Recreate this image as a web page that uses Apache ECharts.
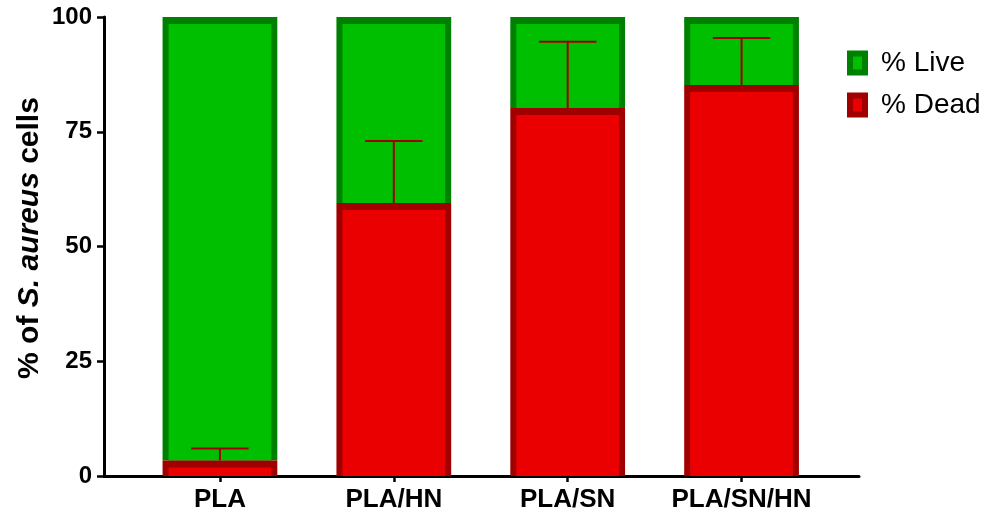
<!DOCTYPE html>
<html>
<head>
<meta charset="utf-8">
<script src="https://cdn.jsdelivr.net/npm/echarts@6/dist/echarts.min.js"></script>
<style>
  html, body { margin: 0; padding: 0; background: #ffffff; }
  #chart { width: 990px; height: 514px; }
</style>
</head>
<body>
<div id="chart"></div>
<script>
// Viability of S. aureus on each surface (percent of cells)
const categories = ['PLA', 'PLA/HN', 'PLA/SN', 'PLA/SN/HN'];
const deadPct = [3.4, 59.5, 80.2, 85.2];
const livePct = [96.6, 40.5, 19.8, 14.8];
const deadErr = [2.6, 13.5, 14.4, 10.2];
const yTicks = [0, 25, 50, 75, 100];

const FONT = '"Liberation Sans", Arial, Helvetica, sans-serif';
const GREEN = '#00BE00', GREEN_DARK = '#008000';
const RED = '#EA0000', RED_DARK = '#A00000';
const SIDE = 6, TOP = 7;

// Bar with a thick inner border on the left, right and top edges
function borderedBar(fill, edge) {
  return function (params, api) {
    const i = api.value(0);
    const base = api.value(1);
    const top = base + api.value(2);
    const w = api.size([1, 0])[0] * 0.66;
    const pTop = api.coord([i, top]);
    const pBase = api.coord([i, base]);
    const x = pTop[0] - w / 2;
    const h = pBase[1] - pTop[1];
    return {
      type: 'group',
      children: [
        { type: 'rect', shape: { x: x, y: pTop[1], width: w, height: h }, style: { fill: edge } },
        { type: 'rect', shape: { x: x + SIDE, y: pTop[1] + TOP, width: w - 2 * SIDE, height: Math.max(0, h - TOP) }, style: { fill: fill } }
      ]
    };
  };
}

// Upper error whisker above the dead fraction
function errorBar(params, api) {
  const i = api.value(0);
  const v = api.value(1);
  const e = api.value(2);
  const capW = api.size([1, 0])[0] * 0.33;
  const p0 = api.coord([i, v]);
  const p1 = api.coord([i, v + e]);
  const style = { stroke: RED_DARK, lineWidth: 2, fill: null };
  return {
    type: 'group',
    children: [
      { type: 'line', shape: { x1: p0[0], y1: p0[1], x2: p1[0], y2: p1[1] }, style: style },
      { type: 'line', shape: { x1: p1[0] - capW / 2, y1: p1[1], x2: p1[0] + capW / 2, y2: p1[1] }, style: style }
    ]
  };
}

const liveData = categories.map((c, i) => [i, deadPct[i], livePct[i]]);
const deadData = categories.map((c, i) => [i, 0, deadPct[i]]);
const errData = categories.map((c, i) => [i, deadPct[i], deadErr[i]]);

const chart = echarts.init(document.getElementById('chart'), null, { renderer: 'canvas' });

chart.setOption({
  backgroundColor: '#ffffff',
  animation: false,
  textStyle: { fontFamily: FONT },
  legend: {
    orient: 'vertical',
    left: 847,
    top: 49,
    padding: 0,
    itemWidth: 15,
    itemHeight: 19,
    itemGap: 14,
    selectedMode: false,
    textStyle: { fontFamily: FONT, fontSize: 28, color: '#000000', padding: [0, 0, 0, 11] },
    data: [
      { name: '% Live', icon: 'rect', itemStyle: { color: GREEN, borderColor: GREEN_DARK, borderWidth: 6 } },
      { name: '% Dead', icon: 'rect', itemStyle: { color: RED, borderColor: RED_DARK, borderWidth: 6 } }
    ]
  },
  graphic: [
    {
      type: 'text',
      x: 30,
      y: 238,
      rotation: Math.PI / 2,
      style: {
        text: '{n|% of }{i|S. aureus}{n| cells}',
        align: 'center',
        verticalAlign: 'middle',
        rich: {
          n: { fontFamily: FONT, fontSize: 30, fontWeight: 'bold', fill: '#000000' },
          i: { fontFamily: FONT, fontSize: 30, fontWeight: 'bold', fontStyle: 'italic', fill: '#000000' }
        }
      }
    }
  ],
  grid: [
    { left: 104, right: 131, top: 17, bottom: 38 },
    { left: 133, right: 161.5, top: 17, bottom: 38 }
  ],
  xAxis: [
    {
      gridIndex: 0, type: 'value', min: 0, max: 1,
      axisLine: { show: true, lineStyle: { color: '#000000', width: 3 } },
      axisTick: { show: false }, axisLabel: { show: false }, splitLine: { show: false }
    },
    {
      gridIndex: 1, type: 'category', data: categories,
      axisLine: { show: false },
      axisTick: { show: true, interval: 0, alignWithLabel: true, length: 6, lineStyle: { color: '#000000', width: 2.5 } },
      axisLabel: { interval: 0, hideOverlap: false, margin: 11, fontFamily: FONT, fontSize: 26, fontWeight: 'bold', color: '#000000' },
      splitLine: { show: false }
    }
  ],
  yAxis: [
    {
      gridIndex: 0, type: 'value', min: 0, max: 100, interval: 25,
      axisLine: { show: true, lineStyle: { color: '#000000', width: 3 } },
      axisTick: { show: true, length: 7, lineStyle: { color: '#000000', width: 2.5 } },
      axisLabel: {
        margin: 12, fontFamily: FONT, fontSize: 24, fontWeight: 'bold', color: '#000000',
        formatter: v => (yTicks.indexOf(v) >= 0 ? String(v) : '')
      },
      splitLine: { show: false }
    },
    {
      gridIndex: 1, type: 'value', min: 0, max: 100, show: false
    }
  ],
  series: [
    {
      name: '% Live', type: 'custom', xAxisIndex: 1, yAxisIndex: 1, z: 2,
      itemStyle: { color: GREEN, borderColor: GREEN_DARK },
      renderItem: borderedBar(GREEN, GREEN_DARK),
      encode: { x: 0, y: [1, 2] },
      data: liveData
    },
    {
      name: 'err', type: 'custom', xAxisIndex: 1, yAxisIndex: 1, z: 3,
      renderItem: errorBar,
      encode: { x: 0, y: [1, 2] },
      data: errData
    },
    {
      name: '% Dead', type: 'custom', xAxisIndex: 1, yAxisIndex: 1, z: 4,
      itemStyle: { color: RED, borderColor: RED_DARK },
      renderItem: borderedBar(RED, RED_DARK),
      encode: { x: 0, y: [1, 2] },
      data: deadData
    }
  ]
});
</script>
</body>
</html>
